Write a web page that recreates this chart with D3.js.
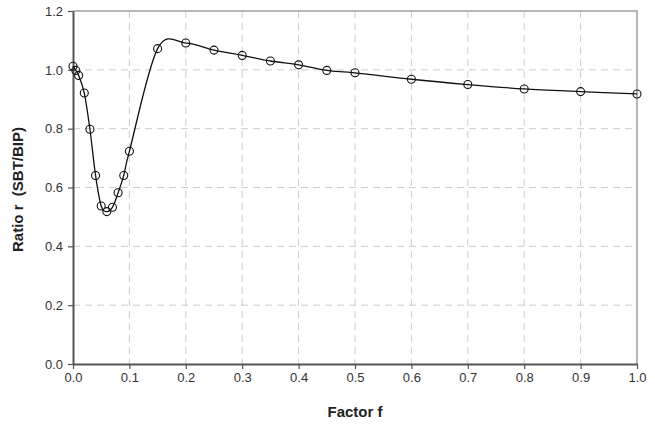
<!DOCTYPE html>
<html><head><meta charset="utf-8">
<script src="https://cdn.jsdelivr.net/npm/d3@7"></script>
<style>body{margin:0;background:#fff}svg{display:block}</style>
</head><body><svg id="c" width="655" height="425"></svg>
<script>
const factorF = [0, 0.005, 0.01, 0.02, 0.03, 0.04, 0.05, 0.06, 0.07, 0.08, 0.09, 0.1, 0.15, 0.2, 0.25, 0.3, 0.35, 0.4, 0.45, 0.5, 0.6, 0.7, 0.8, 0.9, 1.0];
const ratioR  = [1.012, 0.998, 0.981, 0.921, 0.798, 0.641, 0.537, 0.518, 0.533, 0.582, 0.641, 0.723, 1.072, 1.091, 1.067, 1.049, 1.030, 1.017, 0.998, 0.990, 0.968, 0.950, 0.935, 0.926, 0.918];
const xTicks = [0, 0.1, 0.2, 0.3, 0.4, 0.5, 0.6, 0.7, 0.8, 0.9, 1.0];
const yTicks = [0, 0.2, 0.4, 0.6, 0.8, 1.0, 1.2];
const xTitle = "Factor f";
const yTitle = "Ratio r  (SBT/BIP)";

const svg = d3.select("#c");
const L = 73, R = 637, T = 11, B = 364;
const x = d3.scaleLinear().domain([0, 1]).range([L, R]);
const y = d3.scaleLinear().domain([0, 1.2]).range([B, T]);
const font = "'Liberation Sans', Arial, sans-serif";

// grid
const g = svg.append("g");
g.selectAll(".gx").data(xTicks.slice(1, -1)).join("line")
  .attr("x1", d => x(d)).attr("x2", d => x(d)).attr("y1", T).attr("y2", B)
  .attr("stroke", "#cccccc").attr("stroke-width", 1).attr("stroke-dasharray", "7,5");
g.selectAll(".gy").data(yTicks.slice(1, -1)).join("line")
  .attr("y1", d => y(d)).attr("y2", d => y(d)).attr("x1", L).attr("x2", R)
  .attr("stroke", "#cccccc").attr("stroke-width", 1).attr("stroke-dasharray", "7,5");

// top/right border
svg.append("path").attr("d", `M${L},${T}H${R}V${B}`).attr("fill", "none")
  .attr("stroke", "#a0a0a0").attr("stroke-width", 1.5);

// axes
const xAxis = svg.append("g").attr("transform", `translate(0,${B})`)
  .call(d3.axisBottom(x).tickValues(xTicks).tickFormat(d3.format(".1f")).tickSize(5).tickSizeOuter(0));
const yAxis = svg.append("g").attr("transform", `translate(${L},0)`)
  .call(d3.axisLeft(y).tickValues(yTicks).tickFormat(d3.format(".1f")).tickSize(5).tickSizeOuter(0));
[xAxis, yAxis].forEach(a => {
  a.select(".domain").attr("stroke", "#555").attr("stroke-width", 2);
  a.selectAll(".tick line").attr("stroke", "#555").attr("stroke-width", 1.2);
  a.selectAll(".tick text").attr("fill", "#333").style("font-family", font).style("font-size", "13px");
});
xAxis.selectAll(".tick text").attr("y", 9);
yAxis.selectAll(".tick text").attr("x", -10);

// line
const pts = factorF.map((f, i) => [f, ratioR[i]]);
svg.append("path").datum(pts)
  .attr("d", d3.line().x(d => x(d[0])).y(d => y(d[1])).curve(d3.curveCatmullRom.alpha(0)))
  .attr("fill", "none").attr("stroke", "#111").attr("stroke-width", 1.3);

svg.selectAll(".pt").data(pts).join("circle")
  .attr("cx", d => x(d[0])).attr("cy", d => y(d[1])).attr("r", 4)
  .attr("fill", "none").attr("stroke", "#111").attr("stroke-width", 1.1);

// titles
svg.append("text").attr("x", (L + R) / 2).attr("y", 417).attr("text-anchor", "middle")
  .style("font-family", font).style("font-size", "15px").style("font-weight", "bold").attr("fill", "#222")
  .text(xTitle);
svg.append("text").attr("transform", `translate(23,${(T + B) / 2 + 2}) rotate(-90)`).attr("text-anchor", "middle")
  .style("font-family", font).style("font-size", "15px").style("font-weight", "bold").attr("fill", "#222")
  .style("white-space", "pre").attr("xml:space", "preserve")
  .text(yTitle);
</script></body></html>
